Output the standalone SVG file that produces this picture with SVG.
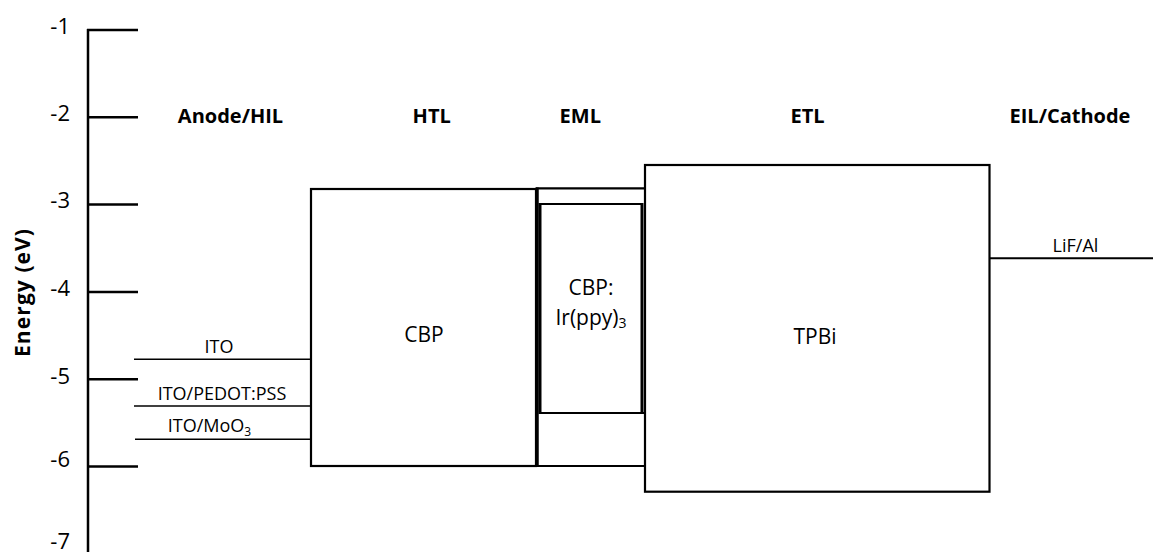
<svg xmlns="http://www.w3.org/2000/svg" width="1153" height="552" viewBox="0 0 1153 552">
<style>
text{font-family:"Open Sans","Liberation Sans",sans-serif;fill:#000}
.tick{font-size:22px;text-anchor:end}
.hdr{font-size:20px;font-weight:bold;text-anchor:middle}
.lbl{font-size:21px;text-anchor:middle}
.sm{font-size:18px;text-anchor:middle}
.ax{stroke:#000;stroke-width:2.5;fill:none}
.box{stroke:#000;stroke-width:2.2;fill:none}
.lvl{stroke:#000;stroke-width:1.6;fill:none}
</style>
<rect width="1153" height="552" fill="#fff"/>
<g id="axis">
<line class="ax" x1="88" y1="29" x2="88" y2="552"/>
<line class="ax" x1="87" y1="30" x2="138" y2="30"/>
<line class="ax" x1="87" y1="117.3" x2="138" y2="117.3"/>
<line class="ax" x1="87" y1="204.6" x2="138" y2="204.6"/>
<line class="ax" x1="87" y1="292" x2="138" y2="292"/>
<line class="ax" x1="87" y1="379.3" x2="138" y2="379.3"/>
<line class="ax" x1="87" y1="466.6" x2="138" y2="466.6"/>
<text class="tick" x="70" y="33.5">-1</text>
<text class="tick" x="70" y="121">-2</text>
<text class="tick" x="70" y="208">-3</text>
<text class="tick" x="70" y="296">-4</text>
<text class="tick" x="70" y="383.5">-5</text>
<text class="tick" x="70" y="467">-6</text>
<text class="tick" x="70" y="549">-7</text>
<text x="0" y="0" font-size="21" font-weight="bold" text-anchor="middle" textLength="128" transform="translate(30,293) rotate(-90)">Energy (eV)</text>
</g>
<g id="headers">
<text class="hdr" x="230.5" y="123">Anode/HIL</text>
<text class="hdr" x="431.7" y="123">HTL</text>
<text class="hdr" x="580.3" y="123">EML</text>
<text class="hdr" x="807.5" y="123">ETL</text>
<text class="hdr" x="1070" y="123">EIL/Cathode</text>
</g>
<g id="anode">
<line class="lvl" x1="134" y1="359.3" x2="311" y2="359.3"/>
<line class="lvl" x1="134" y1="406" x2="311" y2="406"/>
<line class="lvl" x1="135" y1="439.3" x2="311" y2="439.3"/>
<text class="sm" x="219" y="352.5">ITO</text>
<text class="sm" x="222" y="400">ITO/PEDOT:PSS</text>
<text class="sm" x="209.5" y="432">ITO/MoO<tspan font-size="12" dy="4">3</tspan></text>
</g>
<g id="htl">
<rect class="box" x="311" y="189" width="225" height="277"/>
<text class="lbl" x="424" y="341.7">CBP</text>
</g>
<g id="eml">
<line stroke="#000" stroke-width="3.5" x1="537" y1="187.5" x2="537" y2="467"/>
<line class="box" x1="536" y1="188.3" x2="645" y2="188.3"/>
<line class="box" x1="536" y1="466" x2="645" y2="466"/>
<line class="box" x1="539" y1="413" x2="645" y2="413"/>
<line class="box" x1="539" y1="204" x2="642" y2="204"/>
<line stroke="#000" stroke-width="3" x1="540" y1="203" x2="540" y2="414"/>
<line stroke="#000" stroke-width="3" x1="642" y1="203" x2="642" y2="414"/>
<text class="lbl" x="591" y="295">CBP:</text>
<text class="lbl" x="591" y="325">Ir(ppy)<tspan font-size="14" dy="3">3</tspan></text>
</g>
<g id="etl">
<rect class="box" x="645" y="165" width="344.5" height="326.7"/>
<text class="lbl" x="815" y="343.6">TPBi</text>
</g>
<g id="cathode">
<line stroke="#000" stroke-width="2" x1="989" y1="258.3" x2="1153" y2="258.3"/>
<text class="sm" x="1075.5" y="251.7" font-size="17">LiF/Al</text>
</g>
</svg>
